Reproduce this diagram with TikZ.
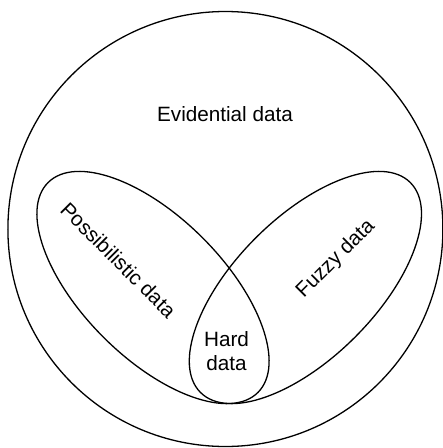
\documentclass[tikz,border=0pt]{standalone}
\usepackage{fontspec}
\setmainfont{Liberation Sans}
\usetikzlibrary{shapes.geometric}
\tikzset{
  outline/.style={draw=black, line width=1.3pt, inner sep=0pt, outer sep=0pt},
  setlabel/.style={font=\fontsize{20.7}{23.5}\selectfont, inner sep=0pt, align=center},
}
\begin{document}
\begin{tikzpicture}[x=1pt, y=-1pt]
\useasboundingbox (0,0) rectangle (443,448);
\node[outline, circle, minimum size=435pt] (evid) at (225.4,229) {};
\node[outline, ellipse, minimum width=296.8pt, minimum height=140.4pt, rotate=-45] (poss) at (153,287.5) {};
\node[outline, ellipse, minimum width=296.8pt, minimum height=140.4pt, rotate=45] (fuzzy) at (305.4,287.5) {};
\node[setlabel] (evidtxt) at (225,114) {Evidential data};
\node[setlabel, rotate=-45] (posstxt) at (118.5,260) {Possibilistic data};
\node[setlabel, rotate=45] (fuzzytxt) at (336,259) {Fuzzy data};
\node[setlabel] (hardtxt) at (226.5,351) {Hard\\data};
\end{tikzpicture}
\end{document}
